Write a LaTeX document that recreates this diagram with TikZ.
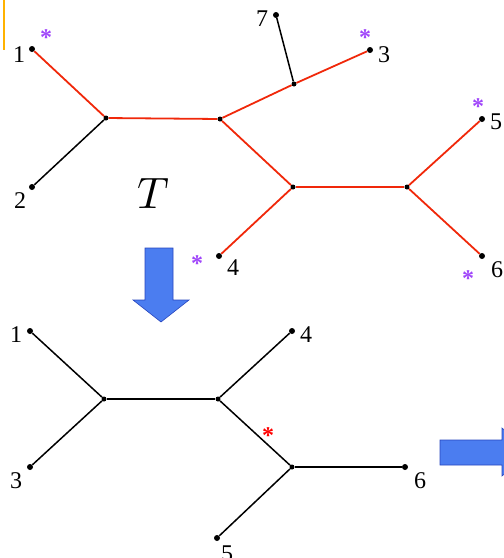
\documentclass[tikz,border=0pt]{standalone}
\usepackage{fontspec}
\setmainfont{Liberation Serif}
\definecolor{pstarc}{RGB}{160,70,250}
\definecolor{arrowfill}{RGB}{75,125,240}
\definecolor{arrowline}{RGB}{40,70,190}
\definecolor{redline}{RGB}{240,40,10}
\begin{document}
\begin{tikzpicture}[x=1pt,y=-1pt,
  leaf/.style={circle,fill=black,inner sep=0pt,minimum size=6pt},
  inode/.style={circle,fill=black,inner sep=0pt,minimum size=5pt},
  redge/.style={draw=redline,line width=1.8pt},
  bedge/.style={draw=black,line width=1.5pt},
  lbl/.style={font=\fontsize{24}{26}\selectfont,inner sep=0pt},
  pstar/.style={font=\fontsize{24}{24}\selectfont\bfseries,text=pstarc,inner sep=0pt},
  rstar/.style={font=\fontsize{24}{24}\selectfont\bfseries,text=red,inner sep=0pt},
  barrow/.style={fill=arrowfill,draw=arrowline,line width=0.6pt}
]
\useasboundingbox (0,0) rectangle (504,558);
\clip (0,0) rectangle (504,558);
% yellow line
\draw[draw=orange!60!yellow,line width=1.5pt] (4,0) -- (4,50);
% top tree
\node[leaf] (t1) at (32,49) {};
\node[leaf] (t2) at (32,187) {};
\node[leaf] (t7) at (276,15) {};
\node[leaf] (t3) at (370,50) {};
\node[leaf] (t4) at (219,256) {};
\node[leaf] (t5) at (482,119) {};
\node[leaf] (t6) at (482,256) {};
\node[inode] (ta) at (106,118) {};
\node[inode] (tb) at (220,119) {};
\node[inode] (tc) at (294,84) {};
\node[inode] (td) at (293,187) {};
\node[inode] (te) at (407,187) {};
\draw[bedge] (ta) -- (t2);
\draw[bedge] (tc) -- (t7);
\draw[redge] (t1) -- (ta);
\draw[redge] (ta) -- (tb);
\draw[redge] (tb) -- (tc);
\draw[redge] (tc) -- (t3);
\draw[redge] (tb) -- (td);
\draw[redge] (td) -- (t4);
\draw[redge] (td) -- (te);
\draw[redge] (te) -- (t5);
\draw[redge] (te) -- (t6);
\node[lbl] (l1) at (19,55) {1};
\node[lbl] (l2) at (20,201) {2};
\node[lbl] (l7) at (262,19) {7};
\node[lbl] (l3) at (384,55) {3};
\node[lbl] (l4) at (233,268) {4};
\node[lbl] (l5) at (496,122) {5};
\node[lbl] (l6) at (497,270) {6};
\node[pstar] (s1) at (46,38) {*};
\node[pstar] (s3) at (365,38) {*};
\node[pstar] (s5) at (478,107) {*};
\node[pstar] (s6) at (468,279) {*};
\node[pstar] (s4) at (197,264) {*};
\node[inner sep=0pt] (T) at (153,193) {\scalebox{4.4}{$T$}};
% down arrow
\path[barrow] (145,248) -- (173,248) -- (173,300) -- (189,300) -- (161,322) -- (133,300) -- (145,300) -- cycle;
% bottom tree
\node[leaf] (b1) at (30,331) {};
\node[leaf] (b3) at (30,467) {};
\node[leaf] (b4) at (292,331) {};
\node[leaf] (b5) at (217,538) {};
\node[leaf] (b6) at (405,467) {};
\node[inode] (bf) at (104,399) {};
\node[inode] (bg) at (218,399) {};
\node[inode] (bh) at (292,467) {};
\draw[bedge] (b1) -- (bf);
\draw[bedge] (b3) -- (bf);
\draw[bedge] (bf) -- (bg);
\draw[bedge] (bg) -- (b4);
\draw[bedge] (bg) -- (bh);
\draw[bedge] (bh) -- (b5);
\draw[bedge] (bh) -- (b6);
\node[lbl] (m1) at (16,335) {1};
\node[lbl] (m3) at (16,481) {3};
\node[lbl] (m4) at (306,335) {4};
\node[lbl] (m5) at (227,554) {5};
\node[lbl] (m6) at (420,481) {6};
\node[rstar] (rs) at (268,436) {*};
% right arrow (clipped)
\path[barrow] (440,440) -- (502,440) -- (502,428) -- (530,452) -- (502,476) -- (502,465) -- (440,465) -- cycle;
\end{tikzpicture}
\end{document}
